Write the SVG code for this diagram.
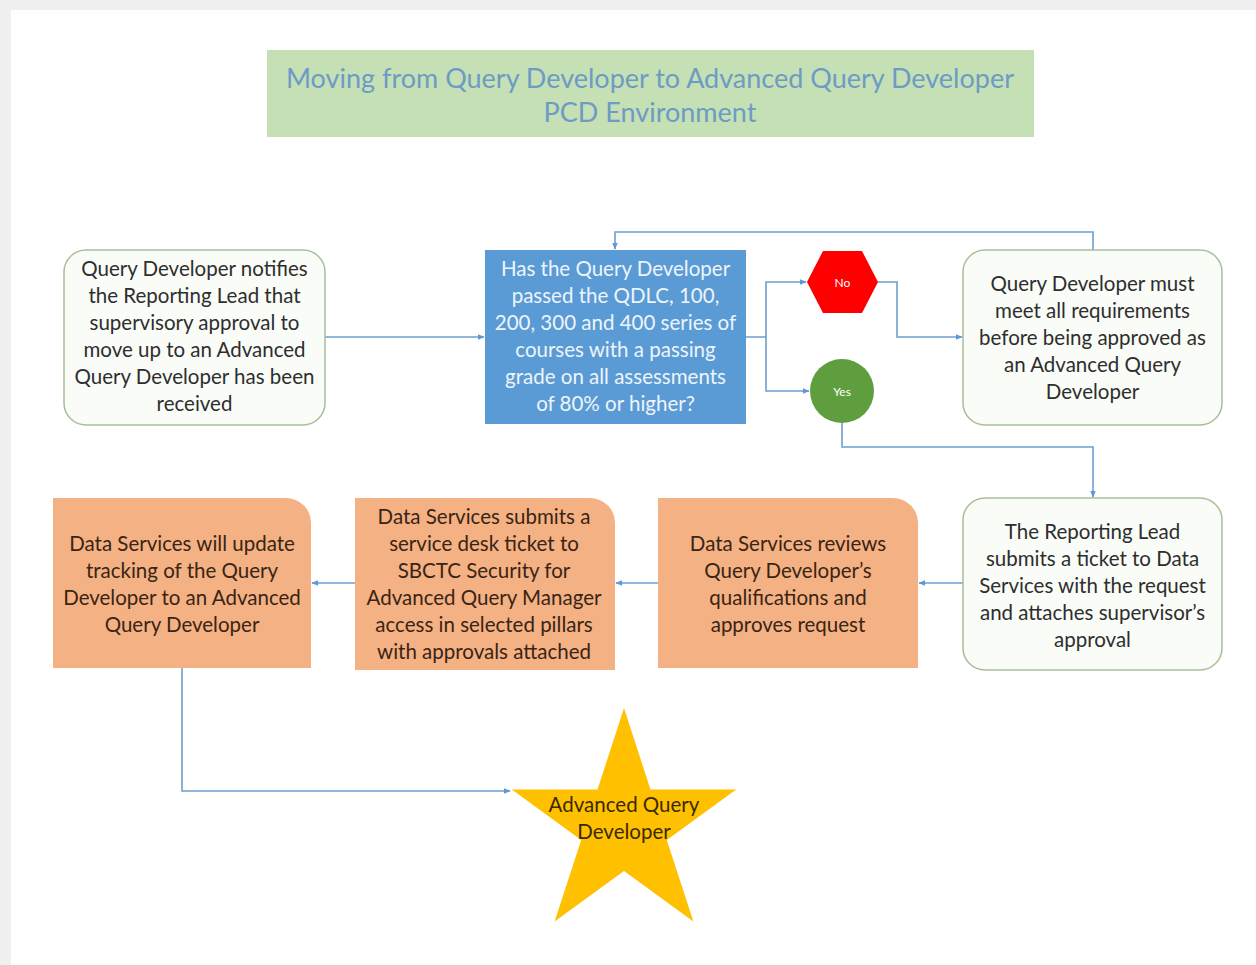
<svg xmlns="http://www.w3.org/2000/svg" width="1256" height="965" viewBox="0 0 1256 965">
<defs>
<marker id="arr" viewBox="0 0 10 10" refX="9" refY="5" markerWidth="7" markerHeight="7" orient="auto" markerUnits="userSpaceOnUse">
<path d="M0,1 L10,5 L0,9 Z" fill="#5b9bd5"/>
</marker>
<style>
.t{font-family:Lato,"Liberation Sans",sans-serif;font-size:20.5px;text-anchor:middle;dominant-baseline:central}
.dark{fill:#2e2e2e}
.brown{fill:#3a2414}
.white{fill:#eef4fb}
.wbox{fill:#fafcf8;stroke:#a8bf9a;stroke-width:1.5}
.obox{fill:#f4b183}
.con{fill:none;stroke:#6d9fd0;stroke-width:1.6}
.ttl{font-family:Lato,"Liberation Sans",sans-serif;font-size:27px;text-anchor:middle;dominant-baseline:central;fill:#6d9bc5}
</style>
</defs>
<rect x="0" y="0" width="1256" height="965" fill="#ffffff"/>
<rect x="0" y="0" width="1256" height="10" fill="#efefef"/>
<rect x="0" y="0" width="11" height="965" fill="#f0f0f0"/>

<g id="title">
<rect x="267" y="50" width="767" height="87" fill="#c5e0b4"/>
<text class="ttl" x="650" y="77">Moving from Query Developer to Advanced Query Developer</text>
<text class="ttl" x="650" y="111">PCD Environment</text>
</g>

<g id="connectors">
<path class="con" d="M325,337 H484" marker-end="url(#arr)"/>
<path class="con" d="M746,337 H766 V282 H806" marker-end="url(#arr)"/>
<path class="con" d="M766,337 V391 H809" marker-end="url(#arr)"/>
<path class="con" d="M878,282 H897 V337 H962" marker-end="url(#arr)"/>
<path class="con" d="M1093,250 V232 H615 V249" marker-end="url(#arr)"/>
<path class="con" d="M842,423 V447 H1093 V497" marker-end="url(#arr)"/>
<path class="con" d="M963,583 H919" marker-end="url(#arr)"/>
<path class="con" d="M658,583 H616" marker-end="url(#arr)"/>
<path class="con" d="M355,583 H312" marker-end="url(#arr)"/>
<path class="con" d="M182,668 V791 H510" marker-end="url(#arr)"/>
</g>

<g id="n1">
<rect class="wbox" x="64" y="250" width="261" height="175" rx="22"/>
<text class="t dark" x="194.5" y="268">Query Developer notifies</text>
<text class="t dark" x="194.5" y="295">the Reporting Lead that</text>
<text class="t dark" x="194.5" y="322">supervisory approval to</text>
<text class="t dark" x="194.5" y="349">move up to an Advanced</text>
<text class="t dark" x="194.5" y="376">Query Developer has been</text>
<text class="t dark" x="194.5" y="403">received</text>
</g>

<g id="n2">
<rect x="485" y="250" width="261" height="174" fill="#5b9bd5"/>
<text class="t white" x="615.5" y="268">Has the Query Developer</text>
<text class="t white" x="615.5" y="295">passed the QDLC, 100,</text>
<text class="t white" x="615.5" y="322">200, 300 and 400 series of</text>
<text class="t white" x="615.5" y="349">courses with a passing</text>
<text class="t white" x="615.5" y="376">grade on all assessments</text>
<text class="t white" x="615.5" y="403">of 80% or higher?</text>
</g>

<g id="no">
<polygon points="807,282 823,251 862,251 878,282 862,313 823,313" fill="#ff0000"/>
<text x="842.5" y="282" font-family="Lato,'Liberation Sans',sans-serif" font-size="12" text-anchor="middle" dominant-baseline="central" fill="#ffffff">No</text>
</g>

<g id="yes">
<circle cx="842" cy="391" r="32" fill="#5e9e3e"/>
<text x="842" y="391" font-family="Lato,'Liberation Sans',sans-serif" font-size="12" text-anchor="middle" dominant-baseline="central" fill="#ffffff">Yes</text>
</g>

<g id="n3">
<rect class="wbox" x="963" y="250" width="259" height="175" rx="22"/>
<text class="t dark" x="1092.5" y="283">Query Developer must</text>
<text class="t dark" x="1092.5" y="310">meet all requirements</text>
<text class="t dark" x="1092.5" y="337">before being approved as</text>
<text class="t dark" x="1092.5" y="364">an Advanced Query</text>
<text class="t dark" x="1092.5" y="391">Developer</text>
</g>

<g id="n4">
<rect class="wbox" x="963" y="498" width="259" height="172" rx="22"/>
<text class="t dark" x="1092.5" y="531">The Reporting Lead</text>
<text class="t dark" x="1092.5" y="558">submits a ticket to Data</text>
<text class="t dark" x="1092.5" y="585">Services with the request</text>
<text class="t dark" x="1092.5" y="612">and attaches supervisor’s</text>
<text class="t dark" x="1092.5" y="639">approval</text>
</g>

<g id="n5">
<path class="obox" d="M658,498 H893 A25,25 0 0 1 918,523 V668 H658 Z"/>
<text class="t brown" x="788" y="543">Data Services reviews</text>
<text class="t brown" x="788" y="570">Query Developer’s</text>
<text class="t brown" x="788" y="597">qualifications and</text>
<text class="t brown" x="788" y="624">approves request</text>
</g>

<g id="n6">
<path class="obox" d="M355,498 H590 A25,25 0 0 1 615,523 V670 H355 Z"/>
<text class="t brown" x="484" y="516">Data Services submits a</text>
<text class="t brown" x="484" y="543">service desk ticket to</text>
<text class="t brown" x="484" y="570">SBCTC Security for</text>
<text class="t brown" x="484" y="597">Advanced Query Manager</text>
<text class="t brown" x="484" y="624">access in selected pillars</text>
<text class="t brown" x="484" y="651">with approvals attached</text>
</g>

<g id="n7">
<path class="obox" d="M53,498 H286 A25,25 0 0 1 311,523 V668 H53 Z"/>
<text class="t brown" x="182" y="543">Data Services will update</text>
<text class="t brown" x="182" y="570">tracking of the Query</text>
<text class="t brown" x="182" y="597">Developer to an Advanced</text>
<text class="t brown" x="182" y="624">Query Developer</text>
</g>

<g id="star">
<polygon points="624,708 650.5,789.6 736.2,789.6 666.8,840 693.4,921.5 624,871 554.6,921.5 581.2,840 511.8,789.6 597.5,789.6" fill="#ffc000"/>
<text class="t" x="624" y="804" fill="#3a2a00" font-size="19.5">Advanced Query</text>
<text class="t" x="624" y="831" fill="#3a2a00" font-size="19.5">Developer</text>
</g>
</svg>
